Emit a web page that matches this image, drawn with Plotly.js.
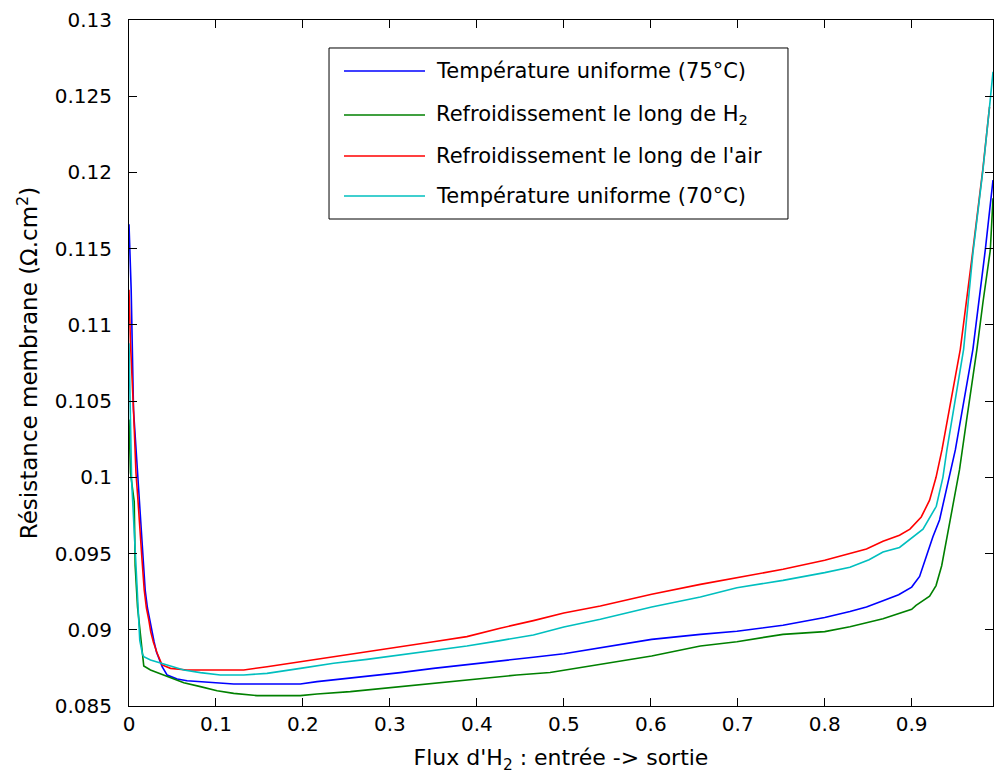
<!DOCTYPE html>
<html>
<head>
<meta charset="utf-8">
<script src="https://cdn.plot.ly/plotly-3.0.1.min.js"></script>
<style>
  html, body { margin: 0; padding: 0; background: #ffffff; }
  #chart { width: 994px; height: 782px; }
</style>
</head>
<body>
<div id="chart"></div>
<script>
// ---------------- DATA ----------------
const seriesNames = [
  "Température uniforme (75°C)",
  "Refroidissement le long de H<sub>2</sub>",
  "Refroidissement le long de l'air",
  "Température uniforme (70°C)"
];

const xBlue = [0, 0.0025, 0.0052, 0.0085, 0.0117, 0.0144, 0.0163, 0.0186, 0.0212, 0.0239, 0.0262, 0.0289, 0.0316, 0.0339, 0.0381, 0.0439, 0.0554, 0.0668, 0.0821, 0.101, 0.1204, 0.1587, 0.197, 0.2162, 0.2353, 0.2736, 0.3119, 0.3501, 0.3885, 0.4267, 0.465, 0.5, 0.542, 0.601, 0.657, 0.699, 0.752, 0.8, 0.829, 0.848, 0.867, 0.885, 0.9, 0.9091, 0.9168, 0.9244, 0.932, 0.9502, 0.9704, 0.9846, 0.9935];
const yBlue = [0.1166, 0.1123, 0.1044, 0.1015, 0.0985, 0.09655, 0.09458, 0.09261, 0.09143, 0.09064, 0.08986, 0.0892, 0.08854, 0.08822, 0.08758, 0.08703, 0.08677, 0.08666, 0.0866, 0.08649, 0.08644, 0.08644, 0.08644, 0.0866, 0.08671, 0.08697, 0.08719, 0.08747, 0.08773, 0.08795, 0.0882, 0.08843, 0.08883, 0.08937, 0.0897, 0.0899, 0.0903, 0.0908, 0.0912, 0.0915, 0.0919, 0.0923, 0.0928, 0.0935, 0.0948, 0.0961, 0.0972, 0.1018, 0.1084, 0.1149, 0.1195];

const xGreen = [0, 0.0017, 0.006, 0.0071, 0.0098, 0.0147, 0.0155, 0.017, 0.0247, 0.0439, 0.063, 0.0821, 0.1013, 0.1204, 0.1472, 0.197, 0.2162, 0.2545, 0.2928, 0.331, 0.3693, 0.4076, 0.4459, 0.4841, 0.5, 0.542, 0.601, 0.657, 0.699, 0.752, 0.8, 0.829, 0.867, 0.9, 0.905, 0.9206, 0.928, 0.9345, 0.9405, 0.947, 0.955, 0.963, 0.975, 0.982, 0.9904, 0.9935];
const yGreen = [0.1038, 0.1003, 0.0984, 0.0942, 0.0915, 0.089, 0.0882, 0.08762, 0.08736, 0.08693, 0.08653, 0.08627, 0.086, 0.08583, 0.08568, 0.08568, 0.08579, 0.08594, 0.08616, 0.08638, 0.0866, 0.08682, 0.08703, 0.0872, 0.08735, 0.08773, 0.08828, 0.08894, 0.08922, 0.0897, 0.08988, 0.0902, 0.09072, 0.09134, 0.0916, 0.0922, 0.0929, 0.0942, 0.0961, 0.0981, 0.1005, 0.1037, 0.1084, 0.1115, 0.1149, 0.1183];

const xRed = [0, 0.0017, 0.0052, 0.008, 0.0103, 0.013, 0.015, 0.0175, 0.02, 0.0228, 0.025, 0.028, 0.0324, 0.0381, 0.0477, 0.0668, 0.1013, 0.1319, 0.1587, 0.197, 0.2353, 0.2736, 0.3119, 0.3501, 0.3885, 0.4267, 0.465, 0.5, 0.542, 0.601, 0.657, 0.699, 0.752, 0.8, 0.829, 0.848, 0.867, 0.886, 0.898, 0.911, 0.9206, 0.928, 0.9348, 0.9559, 0.9704, 0.982, 0.9895];
const yRed = [0.1123, 0.1088, 0.1044, 0.1003, 0.0985, 0.09655, 0.09458, 0.09261, 0.09143, 0.09064, 0.08986, 0.0892, 0.08846, 0.08769, 0.08747, 0.08736, 0.08736, 0.08736, 0.08758, 0.08791, 0.08824, 0.08857, 0.08894, 0.08922, 0.08955, 0.0901, 0.0906, 0.0911, 0.09156, 0.09233, 0.09298, 0.09342, 0.09397, 0.09456, 0.095, 0.0953, 0.0958, 0.0962, 0.0966, 0.0974, 0.0985, 0.1, 0.1018, 0.1084, 0.1149, 0.1203, 0.1243];

const xCyan = [0, 0.0017, 0.003, 0.0075, 0.0098, 0.0124, 0.0155, 0.017, 0.0247, 0.0439, 0.063, 0.0821, 0.105, 0.1319, 0.1587, 0.197, 0.2353, 0.2736, 0.3119, 0.3501, 0.3885, 0.4267, 0.465, 0.5, 0.542, 0.601, 0.657, 0.699, 0.752, 0.8, 0.829, 0.851, 0.867, 0.886, 0.9, 0.913, 0.9283, 0.9359, 0.9405, 0.9597, 0.9704, 0.982, 0.9895, 0.9935];
const yCyan = [0.1088, 0.1038, 0.0998, 0.0948, 0.0922, 0.0893, 0.0884, 0.08824, 0.08802, 0.08769, 0.08736, 0.08719, 0.08703, 0.08703, 0.08714, 0.08747, 0.0878, 0.08806, 0.08835, 0.08867, 0.08894, 0.08929, 0.08966, 0.09018, 0.09069, 0.0915, 0.09215, 0.09276, 0.09324, 0.09375, 0.0941, 0.0946, 0.0951, 0.0954, 0.096, 0.0966, 0.0981, 0.1, 0.1018, 0.1084, 0.1147, 0.1202, 0.1243, 0.1266];

const xTickVals = [0, 0.1, 0.2, 0.3, 0.4, 0.5, 0.6, 0.7, 0.8, 0.9];
const xTickText = ["0", "0.1", "0.2", "0.3", "0.4", "0.5", "0.6", "0.7", "0.8", "0.9"];
const yTickVals = [0.085, 0.09, 0.095, 0.1, 0.105, 0.11, 0.115, 0.12, 0.125, 0.13];
const yTickText = ["0.085", "0.09", "0.095", "0.1", "0.105", "0.11", "0.115", "0.12", "0.125", "0.13"];

const seriesColors = ["#0000ff", "#008000", "#ff0000", "#00bfbf"];

// ---------------- CHART ----------------
const FONT = "DejaVu Sans, Liberation Sans, Arial, sans-serif";
const xs = [xBlue, xGreen, xRed, xCyan];
const ys = [yBlue, yGreen, yRed, yCyan];

const traces = xs.map((x, i) => ({
  type: "scatter",
  mode: "lines",
  x: x,
  y: ys[i],
  name: seriesNames[i],
  line: { color: seriesColors[i], width: 1.6 },
  showlegend: false,
  hoverinfo: "skip"
}));

// legend box (drawn by hand so its size matches the reference)
const box = { x0: 0.2315, x1: 0.7627, y0: 0.7099, y1: 0.9592 };
const rowY = [0.9257, 0.8615, 0.8017, 0.7434];
const sampleX = [0.2488, 0.3426];
const textX = 0.353;

const shapes = [{
  type: "rect", xref: "paper", yref: "paper",
  x0: box.x0, x1: box.x1, y0: box.y0, y1: box.y1,
  line: { color: "#000000", width: 1 }, fillcolor: "#ffffff", layer: "above"
}];
const annotations = [];
seriesNames.forEach((nm, i) => {
  shapes.push({
    type: "line", xref: "paper", yref: "paper",
    x0: sampleX[0], x1: sampleX[1], y0: rowY[i], y1: rowY[i],
    line: { color: seriesColors[i], width: 1.6 }, layer: "above"
  });
  annotations.push({
    xref: "paper", yref: "paper", x: textX, y: rowY[i],
    xanchor: "left", yanchor: "middle", showarrow: false,
    text: nm, font: { family: FONT, size: 21, color: "#000000" }
  });
});

const axisCommon = {
  showline: true, linecolor: "#000000", linewidth: 1,
  mirror: "ticks", ticks: "inside", ticklen: 8, tickwidth: 1, tickcolor: "#000000",
  showgrid: false, zeroline: false,
  tickfont: { family: FONT, size: 20, color: "#000000" }
};

const layout = {
  width: 994, height: 782,
  paper_bgcolor: "#ffffff", plot_bgcolor: "#ffffff",
  margin: { l: 129, r: 1, t: 20, b: 76, pad: 0 },
  showlegend: false,
  xaxis: Object.assign({}, axisCommon, {
    range: [0, 0.9935],
    tickmode: "array", tickvals: xTickVals, ticktext: xTickText,
    title: { text: "Flux d'H<sub>2</sub> : entrée -&gt; sortie", font: { family: FONT, size: 22, color: "#000000" }, standoff: 14 },
    automargin: false
  }),
  yaxis: Object.assign({}, axisCommon, {
    range: [0.085, 0.13],
    tickmode: "array", tickvals: yTickVals, ticktext: yTickText,
    ticklabelstandoff: 12,
    title: { text: "Résistance membrane (Ω.cm<sup>2</sup>)", font: { family: FONT, size: 23, color: "#000000" }, standoff: 10 },
    automargin: false
  }),
  shapes: shapes,
  annotations: annotations
};

Plotly.newPlot("chart", traces, layout, { displayModeBar: false, staticPlot: true });
</script>
</body>
</html>
